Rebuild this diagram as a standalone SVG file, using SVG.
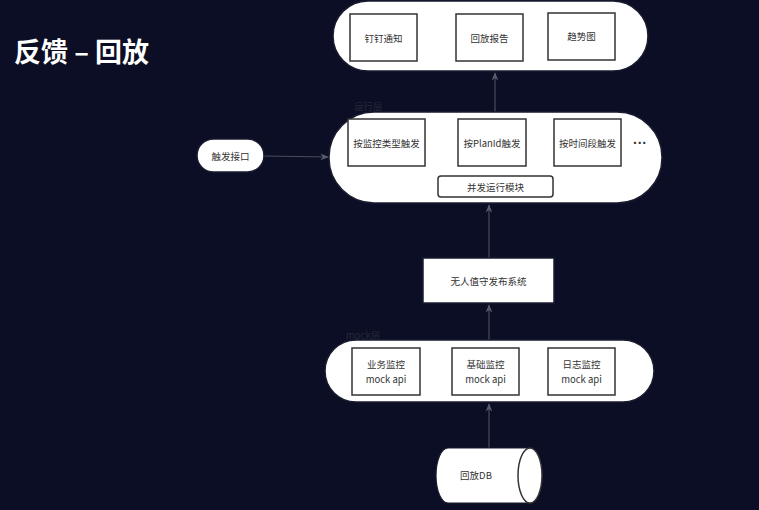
<svg xmlns="http://www.w3.org/2000/svg" width="759" height="510" viewBox="0 0 759 510">
<defs>
<marker id="ah" viewBox="0 0 10 10" refX="9" refY="5" markerWidth="7" markerHeight="7" orient="auto">
<path d="M0,1 L10,5 L0,9 L3,5 Z" fill="#5a5e6e"/>
</marker>
</defs>
<style>
.cont{fill:#ffffff;stroke:#1a1d30;stroke-width:1.5}
.box{fill:#ffffff;stroke:#333333;stroke-width:1.5}
.t{font-family:"Noto Sans CJK SC","Liberation Sans",sans-serif;font-size:9.5px;fill:#333333;text-anchor:middle;dominant-baseline:central}
.lay{font-family:"Noto Sans CJK SC","Liberation Sans",sans-serif;font-size:9.5px;fill:#262a3e}
.edge{stroke:#4a4e5e;stroke-width:1.2;fill:none;marker-end:url(#ah)}
</style>
<rect width="759" height="510" fill="#0b0e24"/>
<text x="14" y="62" font-family="Noto Sans CJK SC,Liberation Sans,sans-serif" font-size="27" font-weight="bold" fill="#ffffff">反馈 – 回放</text>

<text class="lay" x="354" y="110">运行层</text>
<text class="lay" x="346" y="339">mock层</text>

<g id="connectors">
<line class="edge" x1="495" y1="112" x2="495" y2="73"/>
<line class="edge" x1="264" y1="156" x2="328" y2="157"/>
<line class="edge" x1="489" y1="258" x2="489" y2="205"/>
<line class="edge" x1="489" y1="340" x2="489" y2="305"/>
<line class="edge" x1="489" y1="448" x2="489" y2="404"/>
</g>

<g id="top-container">
<rect class="cont" x="333" y="1" width="315" height="70" rx="35"/>
</g>
<g id="n-dingding"><rect class="box" x="350" y="14" width="67" height="47"/><text class="t" x="383.5" y="38">钉钉通知</text></g>
<g id="n-report"><rect class="box" x="456" y="14" width="67" height="47"/><text class="t" x="489.5" y="38">回放报告</text></g>
<g id="n-trend"><rect class="box" x="548" y="13" width="67" height="47"/><text class="t" x="581.5" y="36">趋势图</text></g>

<g id="run-container">
<rect class="cont" x="329" y="112" width="333" height="91" rx="45"/>
</g>
<g id="n-type"><rect class="box" x="348" y="119" width="77" height="47"/><text class="t" x="386.5" y="143">按监控类型触发</text></g>
<g id="n-planid"><rect class="box" x="458" y="119" width="68" height="47"/><text class="t" x="492" y="143">按PlanId触发</text></g>
<g id="n-time"><rect class="box" x="554" y="119" width="67" height="47"/><text class="t" x="587.5" y="143">按时间段触发</text></g>
<g id="n-dots"><text x="640" y="143" font-family="Liberation Sans,sans-serif" font-size="14" font-weight="bold" fill="#333333" text-anchor="middle" dominant-baseline="central">···</text></g>
<g id="n-concurrent"><rect class="box" x="438" y="176" width="115" height="21" rx="3"/><text class="t" x="495.5" y="186.5">并发运行模块</text></g>

<g id="n-trigger"><rect class="box" x="197" y="139" width="67" height="33" rx="16.5" style="stroke:#1a1d30"/><text class="t" x="230.5" y="155.5">触发接口</text></g>

<g id="n-release"><rect class="box" x="423" y="258" width="131" height="45" style="stroke:#1a1d30"/><text class="t" x="488.5" y="280.5">无人值守发布系统</text></g>

<g id="mock-container">
<rect class="cont" x="325" y="340" width="329" height="62" rx="31"/>
</g>
<g id="n-biz"><rect class="box" x="352" y="348" width="68" height="47"/><text class="t" x="386" y="364">业务监控</text><text class="t" x="386" y="379">mock api</text></g>
<g id="n-base"><rect class="box" x="452" y="348" width="67" height="47"/><text class="t" x="485.5" y="364">基础监控</text><text class="t" x="485.5" y="379">mock api</text></g>
<g id="n-log"><rect class="box" x="548" y="348" width="67" height="47"/><text class="t" x="581.5" y="364">日志监控</text><text class="t" x="581.5" y="379">mock api</text></g>

<g id="n-db">
<path d="M448,448 L530,448 A12,27.5 0 0 1 530,503 L448,503 A12,27.5 0 0 1 448,448 Z" fill="#ffffff" stroke="#1a1d30" stroke-width="1.2"/>
<ellipse cx="530" cy="475.5" rx="12" ry="27.5" fill="#ffffff" stroke="#333333" stroke-width="1.5"/>
<text class="t" x="476" y="475">回放DB</text>
</g>
</svg>
